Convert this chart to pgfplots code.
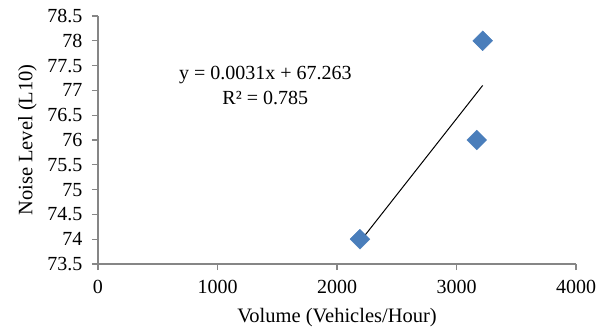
\documentclass[border=0pt]{standalone}
\usepackage{pgfplots}
\pgfplotsset{compat=1.18}
\usepackage{fontspec}
\setmainfont{Liberation Serif}
\usetikzlibrary{calc}
\definecolor{mk}{HTML}{4A7EBB}
\definecolor{axg}{HTML}{868686}
\begin{document}
\begin{tikzpicture}
\begin{axis}[
  name=ax,
  scale only axis,
  width=478bp, height=248bp,
  xmin=0, xmax=4000, ymin=73.5, ymax=78.5,
  xtick={0,1000,2000,3000,4000},
  ytick={73.5,74,...,78.5},
  axis x line*=bottom, axis y line*=left,
  axis line style={axg, line width=1.1pt},
  every tick/.style={axg, line width=1.1pt},
  tick align=outside,
  major tick length=6bp,
  x axis line style={-}, y axis line style={-},
  /pgf/number format/assume math mode=true,
  ticklabel style={font=\fontsize{20bp}{24bp}\selectfont, text=black},
  yticklabel style={xshift=-6bp, /pgf/number format/fixed, /pgf/number format/use period},
  xticklabel style={yshift=-7bp, /pgf/number format/fixed, /pgf/number format/1000 sep={}},
  scaled ticks=false,
  xlabel={Volume (Vehicles/Hour)},
  ylabel={Noise Level (L10)},
  label style={font=\fontsize{20.5bp}{24bp}\selectfont},
  xlabel style={yshift=-7bp},
  ylabel style={yshift=4bp},
  clip=false,
]
\addplot[only marks, mark=square*, mark size=7bp, mark options={rotate=45, fill=mk, draw=mk}]
  coordinates {(2192,74) (3169,76) (3219,78)};
\addplot[black, line width=1pt] coordinates {(2192,73.95) (3219,77.10)};
\node[align=center, font=\fontsize{20bp}{25bp}\selectfont] at (axis cs:1400,77.1)
  {y = 0.0031x + 67.263\\R² = 0.785};
\end{axis}
\pgfresetboundingbox
\path[use as bounding box] ($(ax.south west)+(-98bp,-69bp)$) rectangle ($(ax.south west)+(512bp,264bp)$);
\end{tikzpicture}
\end{document}
